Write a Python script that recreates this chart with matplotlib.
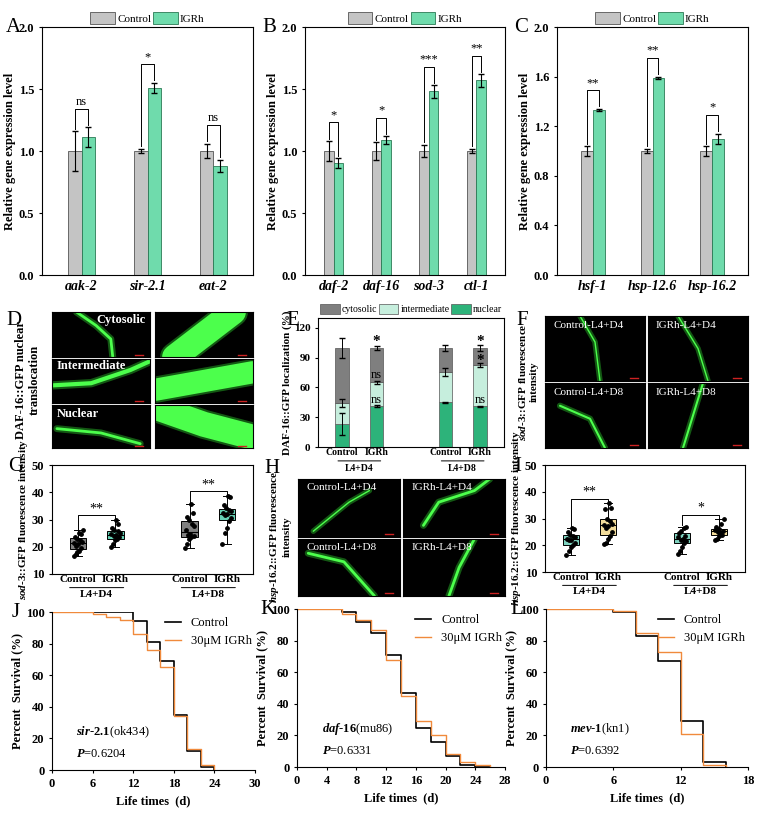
import numpy as np
import matplotlib
matplotlib.use('Agg')
import matplotlib.pyplot as plt

plt.rcParams['font.family'] = ['Liberation Serif', 'DejaVu Serif']
plt.rcParams['font.weight'] = 'bold'
plt.rcParams['axes.labelweight'] = 'bold'
plt.rcParams['mathtext.fontset'] = 'custom'
plt.rcParams['mathtext.rm'] = 'Liberation Serif'
plt.rcParams['mathtext.it'] = 'Liberation Serif:italic:bold'
plt.rcParams['mathtext.bf'] = 'Liberation Serif:bold'

GREY = '#c4c4c4'
MINT = '#6fdbac'
ORANGE = '#f08a3c'

# ---- bar panels A, B, C ----
genes_a = ['aak-2', 'sir-2.1', 'eat-2']
ctrl_a = [1.0, 1.0, 1.0]
ctrl_err_a = [0.16, 0.02, 0.06]
igrh_a = [1.11, 1.51, 0.88]
igrh_err_a = [0.08, 0.04, 0.05]
sig_a = ['ns', '*', 'ns']

genes_b = ['daf-2', 'daf-16', 'sod-3', 'ctl-1']
ctrl_b = [1.0, 1.0, 1.0, 1.0]
ctrl_err_b = [0.08, 0.07, 0.05, 0.02]
igrh_b = [0.90, 1.09, 1.48, 1.57]
igrh_err_b = [0.04, 0.03, 0.05, 0.05]
sig_b = ['*', '*', '***', '**']

genes_c = ['hsf-1', 'hsp-12.6', 'hsp-16.2']
ctrl_c = [1.0, 1.0, 1.0]
ctrl_err_c = [0.04, 0.02, 0.04]
igrh_c = [1.33, 1.59, 1.10]
igrh_err_c = [0.01, 0.01, 0.04]
sig_c = ['**', '**', '*']

# ---- E: localization (%) ----
e_groups = ['Control', 'IGRh', 'Control', 'IGRh']
e_nuclear = [23, 41, 45, 41]
e_nuclear_err = [11, 1, 0.5, 0.5]
e_inter_top = [44, 65, 76, 83]
e_inter_err = [4, 2, 4, 2]
e_cyto_top = [100, 100, 100, 100]
e_cyto_err = [10, 2, 3, 3]

# ---- G and I: fluorescence points ----
g_ctrl_d4 = [16.5, 17.5, 18.0, 18.6, 19.5, 20.2, 21.0, 21.5, 21.8, 22.5, 23.0, 23.4, 24.5, 25.2, 26.0]
g_igrh_d4 = [20.0, 21.0, 22.3, 22.8, 23.5, 24.0, 24.3, 24.5, 25.0, 25.6, 26.0, 27.0, 28.2, 30.0]
g_ctrl_d8 = [19.5, 21.0, 23.0, 23.5, 24.0, 24.3, 24.6, 26.0, 27.5, 28.5, 30.0, 31.0, 32.3, 35.7]
g_igrh_d8 = [21.0, 25.0, 27.0, 29.5, 30.5, 31.5, 32.0, 32.3, 33.0, 33.5, 34.2, 35.5, 38.2, 38.8]
i_ctrl_d4 = [16.5, 18.0, 19.5, 20.0, 21.0, 21.8, 22.0, 22.3, 23.0, 23.5, 24.0, 25.0, 26.0, 26.5]
i_igrh_d4 = [20.3, 21.0, 22.5, 23.5, 25.0, 26.5, 27.3, 27.5, 28.0, 29.0, 30.0, 33.5, 34.0, 35.8]
i_ctrl_d8 = [16.8, 18.0, 19.5, 21.0, 21.5, 22.0, 22.5, 23.0, 23.5, 24.5, 25.5, 26.5, 27.0]
i_igrh_d8 = [22.0, 22.5, 23.3, 23.8, 24.5, 25.0, 25.3, 25.8, 26.0, 27.0, 27.8, 29.8]

# ---- J, K, L: survival ----
j_days = [0, 6, 8, 10, 12, 14, 16, 18, 20, 22, 24]
j_ctrl = [100, 100, 100, 100, 94, 81, 69, 35, 12, 2, 0]
j_igrh = [100, 99, 97, 95, 86, 76, 65, 34, 13, 3, 0]
k_days = [0, 6, 8, 10, 12, 14, 16, 18, 20, 22, 24, 26]
k_ctrl = [100, 98, 92, 85, 71, 47, 25, 16, 7, 1, 0, 0]
k_igrh = [100, 97, 93, 87, 68, 45, 29, 20, 8, 3, 1, 0]
l_days = [0, 6, 8, 10, 12, 14, 16]
l_ctrl = [100, 98, 83, 67, 29, 3, 0]
l_igrh = [100, 99, 85, 73, 21, 1, 0]

W, H = 761, 813
fig = plt.figure(figsize=(W / 100, H / 100), dpi=100)


def add_ax(x0, y0, x1, y1):
    return fig.add_axes([x0 / W, 1 - y1 / H, (x1 - x0) / W, (y1 - y0) / H])


def panel_label(x, y, s):
    fig.text(x / W, 1 - y / H, s, fontsize=15, fontweight='normal', va='center', ha='left')


def bar_panel(ax, genes, ctrl, ctrl_err, igrh, igrh_err, sig, yticks, fmt):
    x = np.arange(len(genes))
    w = 0.2
    ax.bar(x - w / 2, ctrl, w, yerr=ctrl_err, color=GREY, edgecolor='#555555', lw=0.6,
           capsize=2, error_kw=dict(lw=0.8), label='Control')
    ax.bar(x + w / 2, igrh, w, yerr=igrh_err, color=MINT, edgecolor='#2b7a55', lw=0.6,
           capsize=2, error_kw=dict(lw=0.8), label='IGRh')
    for i in range(len(genes)):
        t1 = ctrl[i] + ctrl_err[i] + 0.02
        t2 = igrh[i] + igrh_err[i] + 0.02
        h = max(t1, t2) + 0.13
        ax.plot([x[i] - w / 2, x[i] - w / 2, x[i] + w / 2, x[i] + w / 2], [t1, h, h, t2], color='k', lw=0.7)
        ax.text(x[i], h + 0.01, sig[i], ha='center', va='bottom', fontsize=9, fontweight='normal')
    ax.set_xlim(-0.6, len(genes) - 0.4)
    ax.set_ylim(0, yticks[-1])
    ax.set_yticks(yticks)
    ax.set_yticklabels([fmt % v for v in yticks], fontsize=9)
    ax.set_xticks(x)
    ax.set_xticklabels(genes, fontsize=10, style='italic')
    ax.tick_params(axis='x', length=0)
    ax.tick_params(axis='y', length=2)
    ax.set_ylabel('Relative gene expression level', fontsize=9, labelpad=2)
    ax.legend(loc='lower center', bbox_to_anchor=(0.5, 0.99), ncol=2, frameon=False,
              prop=dict(size=8, weight='normal'),
              handlelength=2.2, handleheight=1.3, columnspacing=0.2, handletextpad=0.2, borderpad=0)


ax = add_ax(42, 27, 253, 275)
bar_panel(ax, genes_a, ctrl_a, ctrl_err_a, igrh_a, igrh_err_a, sig_a, [0, 0.5, 1.0, 1.5, 2.0], '%.1f')
panel_label(6, 28, 'A')
ax = add_ax(305, 27, 505, 275)
bar_panel(ax, genes_b, ctrl_b, ctrl_err_b, igrh_b, igrh_err_b, sig_b, [0, 0.5, 1.0, 1.5, 2.0], '%.1f')
panel_label(262, 28, 'B')
ax = add_ax(557, 27, 748, 275)
bar_panel(ax, genes_c, ctrl_c, ctrl_err_c, igrh_c, igrh_err_c, sig_c, [0, 0.4, 0.8, 1.2, 1.6, 2.0], '%.1f')
panel_label(514, 28, 'C')


# ---- fluorescence image stand-ins ----
def worm_img(x0, y0, x1, y1, pts, text=None, lw=2, alpha=1.0):
    a = add_ax(x0, y0, x1, y1)
    a.set_facecolor('black')
    a.set_xlim(0, 1)
    a.set_ylim(0, 1)
    a.set_xticks([])
    a.set_yticks([])
    px, py = zip(*pts)
    a.plot(px, py, color='#39ff39', lw=lw + 3, alpha=0.35 * alpha, solid_capstyle='round')
    a.plot(px, py, color='#4cff4c', lw=lw, alpha=alpha, solid_capstyle='round')
    a.plot([0.85, 0.93], [0.05, 0.05], color='#cc2222', lw=1)
    if text:
        a.text(0.08, 0.85, text, color='white', fontsize=8, fontweight='normal', va='center')
    return a


# D
a = worm_img(52, 312, 150, 357, [(0.25, 1.0), (0.45, 0.7), (0.6, 0.4), (0.62, 0.0)], None, 2)
a.text(0.45, 0.82, 'Cytosolic', color='white', fontsize=9, va='center')
worm_img(155, 312, 253, 357, [(0.2, 0.0), (0.5, 0.5), (0.8, 1.0)], None, 18)
a = worm_img(52, 359, 150, 403, [(0.0, 0.4), (0.4, 0.45), (0.8, 0.75), (1.0, 0.95)], None, 3)
a.text(0.05, 0.85, 'Intermediate', color='white', fontsize=9, va='center')
worm_img(155, 359, 253, 403, [(0.0, 0.3), (0.5, 0.5), (1.0, 0.7)], None, 16)
a = worm_img(52, 405, 150, 448, [(0.05, 0.45), (0.5, 0.35), (0.9, 0.1)], None, 2)
a.text(0.05, 0.8, 'Nuclear', color='white', fontsize=9, va='center')
worm_img(155, 405, 253, 448, [(0.0, 0.95), (0.5, 0.55), (1.0, 0.25)], None, 18)
fig.text(28 / W, 1 - 380 / H, 'DAF-16::GFP nuclear\ntranslocation', rotation=90, fontsize=9,
         ha='center', va='center')
panel_label(6, 320, 'D')

# E
ax = add_ax(318, 318, 504, 447)
ex = np.array([0, 1, 3, 4])
bw = 0.4
nuc = np.array(e_nuclear)
inter = np.array(e_inter_top) - nuc
cyto = np.array(e_cyto_top) - np.array(e_inter_top)
ax.bar(ex, nuc, bw, color='#2db37a', edgecolor='#555555', lw=0.5, label='nuclear')
ax.bar(ex, inter, bw, bottom=nuc, color='#c6eedd', edgecolor='#555555', lw=0.5, label='intermediate')
ax.bar(ex, cyto, bw, bottom=e_inter_top, color='#7f7f7f', edgecolor='#555555', lw=0.5, label='cytosolic')
ax.errorbar(ex, nuc, yerr=e_nuclear_err, fmt='none', ecolor='k', lw=0.7, capsize=2)
ax.errorbar(ex, e_inter_top, yerr=e_inter_err, fmt='none', ecolor='k', lw=0.7, capsize=2)
ax.errorbar(ex, e_cyto_top, yerr=e_cyto_err, fmt='none', ecolor='k', lw=0.7, capsize=2)
ax.text(1, 103, '*', ha='center', fontsize=11)
ax.text(4, 103, '*', ha='center', fontsize=11)
ax.text(4, 84, '*', ha='center', fontsize=11)
ax.text(1, 70, 'ns', ha='center', fontsize=9, fontweight='normal')
ax.text(1, 44, 'ns', ha='center', fontsize=9, fontweight='normal')
ax.text(4, 44, 'ns', ha='center', fontsize=9, fontweight='normal')
ax.set_xlim(-0.7, 4.7)
ax.set_ylim(0, 130)
ax.set_yticks([0, 30, 60, 90, 120])
ax.tick_params(axis='y', labelsize=8, length=2)
ax.set_xticks(ex)
ax.set_xticklabels(e_groups, fontsize=7)
ax.tick_params(axis='x', length=0, pad=1)
ax.set_ylabel('DAF-16::GFP localization (%)', fontsize=8, labelpad=1)
for xc, lab in [(0.5, 'L4+D4'), (3.5, 'L4+D8')]:
    ax.annotate('', xy=(xc - 0.7, -14), xytext=(xc + 0.7, -14), xycoords='data',
                arrowprops=dict(arrowstyle='-', lw=0.7), annotation_clip=False)
    ax.text(xc, -17, lab, ha='center', va='top', fontsize=7)
h, l = ax.get_legend_handles_labels()
ax.legend(h[::-1], l[::-1], loc='lower center', bbox_to_anchor=(0.5, 0.99), ncol=3, frameon=False,
          prop=dict(size=7, weight='normal'), handlelength=2, handleheight=1.2, columnspacing=0.2,
          handletextpad=0.2, borderpad=0)
panel_label(286, 320, 'E')

# F
worm_img(545, 316, 645, 381, [(0.35, 1.0), (0.5, 0.6), (0.55, 0.0)], 'Control-L4+D4', 1)
worm_img(648, 316, 748, 381, [(0.3, 1.0), (0.5, 0.5), (0.6, 0.0)], 'IGRh-L4+D4', 1)
worm_img(545, 383, 645, 448, [(0.15, 0.65), (0.45, 0.45), (0.6, 0.0)], 'Control-L4+D8', 1.5)
worm_img(648, 383, 748, 448, [(0.55, 1.0), (0.45, 0.5), (0.35, 0.0)], 'IGRh-L4+D8', 1.5)
fig.text(528 / W, 1 - 382 / H, '$\\it{sod}$-$\\it{3}$::GFP fluorescence\nintensity', rotation=90,
         fontsize=8, ha='center', va='center')
panel_label(516, 320, 'F')


def box_panel(ax, groups, colors, sig, ylab):
    pos = [0, 1, 3, 4]
    bp = ax.boxplot(groups, positions=pos, widths=0.45, patch_artist=True, showfliers=False,
                    medianprops=dict(color='k', lw=0.8), whiskerprops=dict(lw=0.7),
                    capprops=dict(lw=0.7), boxprops=dict(lw=0.7), whis=(0, 100))
    for b, c in zip(bp['boxes'], colors):
        b.set_facecolor(c)
    for p, g in zip(pos, groups):
        offs = np.linspace(-0.12, 0.12, len(g))[np.argsort(np.arange(len(g)) % 3)]
        ax.scatter(np.full(len(g), p) + offs, g, s=6, color='k', zorder=3)
    for k, ((p1, p2), s) in enumerate(zip([(0, 1), (3, 4)], sig)):
        a, b = groups[2 * k], groups[2 * k + 1]
        top = max(max(a), max(b)) + 1.5
        ax.plot([p1, p1, p2, p2], [max(a) + 0.5, top, top, top - 1], color='k', lw=0.7)
        ax.text((p1 + p2) / 2, top, s, ha='center', va='bottom', fontsize=10, fontweight='normal')
    ax.set_xlim(-0.7, 4.7)
    ax.set_ylim(10, 50)
    ax.set_yticks([10, 20, 30, 40, 50])
    ax.tick_params(axis='y', labelsize=9, length=2)
    ax.set_xticks(pos)
    ax.set_xticklabels(['Control', 'IGRh', 'Control', 'IGRh'], fontsize=8)
    ax.tick_params(axis='x', length=0, pad=1)
    ax.set_ylabel(ylab, fontsize=8, labelpad=1)
    for xc, lab in [(0.5, 'L4+D4'), (3.5, 'L4+D8')]:
        ax.annotate('', xy=(xc - 0.8, 5.0), xytext=(xc + 0.8, 5.0), xycoords='data',
                    arrowprops=dict(arrowstyle='-', lw=0.7), annotation_clip=False)
        ax.text(xc, 4.3, lab, ha='center', va='top', fontsize=8)


# G
ax = add_ax(52, 465, 253, 574)
box_panel(ax, [g_ctrl_d4, g_igrh_d4, g_ctrl_d8, g_igrh_d8], ['#808080', '#66d1b5', '#808080', '#66d1b5'],
          ['**', '**'], '$\\it{sod}$-$\\it{3}$::GFP fluorescence intensity')
panel_label(8, 466, 'G')

# H
worm_img(298, 479, 400, 537, [(0.15, 0.1), (0.5, 0.6), (0.7, 0.8)], 'Control-L4+D4', 1)
worm_img(403, 479, 505, 537, [(0.2, 0.2), (0.35, 0.6), (0.7, 0.8), (0.85, 1.0)], 'IGRh-L4+D4', 2)
worm_img(298, 539, 400, 596, [(0.1, 0.75), (0.45, 0.6), (0.75, 0.0)], 'Control-L4+D8', 2)
worm_img(403, 539, 505, 596, [(0.7, 1.0), (0.55, 0.5), (0.45, 0.0)], 'IGRh-L4+D8', 2)
fig.text(280 / W, 1 - 537 / H, '$\\it{hsp}$-$\\it{16.2}$::GFP fluorescence\nintensity', rotation=90,
         fontsize=8, ha='center', va='center')
panel_label(264, 468, 'H')

# I
ax = add_ax(545, 465, 745, 572)
box_panel(ax, [i_ctrl_d4, i_igrh_d4, i_ctrl_d8, i_igrh_d8], ['#7fd3c0', '#f2dc9b', '#7fd3c0', '#f2dc9b'],
          ['**', '*'], '$\\it{hsp}$-$\\it{16.2}$::GFP fluorescence intensity')
panel_label(514, 466, 'I')


def surv_panel(ax, days, ctrl, igrh, xmax, xticks, gene, strain, pval):
    ax.step(days, ctrl, where='post', color='k', lw=1.2, label='Control')
    ax.step(days, igrh, where='post', color=ORANGE, lw=1.0, label='30μM IGRh')
    ax.set_xlim(0, xmax)
    ax.set_ylim(0, 100)
    ax.set_xticks(xticks)
    ax.set_yticks([0, 20, 40, 60, 80, 100])
    ax.tick_params(labelsize=9, length=2)
    for s in ['top', 'right']:
        ax.spines[s].set_visible(False)
    ax.set_xlabel('Life times  (d)', fontsize=9)
    ax.set_ylabel('Percent  Survival (%)', fontsize=9, labelpad=2)
    ax.legend(loc='upper right', bbox_to_anchor=(1.04, 1.04), frameon=False,
              handlelength=1.3, prop=dict(weight='normal', size=9))
    ax.text(0.12, 0.22, '$\\it{%s}$(%s)' % (gene, strain), transform=ax.transAxes, fontsize=9,
            fontweight='normal')
    ax.text(0.12, 0.08, '$\\it{P}$=%s' % pval, transform=ax.transAxes, fontsize=9, fontweight='normal')


ax = add_ax(52, 612, 255, 770)
surv_panel(ax, j_days, j_ctrl, j_igrh, 30, [0, 6, 12, 18, 24, 30], 'sir}$-$\\it{2.1', 'ok434', '0.6204')
panel_label(12, 612, 'J')
ax = add_ax(297, 609, 505, 767)
surv_panel(ax, k_days, k_ctrl, k_igrh, 28, list(range(0, 29, 4)), 'daf}$-$\\it{16', 'mu86', '0.6331')
panel_label(260, 609, 'K')
ax = add_ax(546, 609, 748, 767)
surv_panel(ax, l_days, l_ctrl, l_igrh, 18, [0, 6, 12, 18], 'mev}$-$\\it{1', 'kn1', '0.6392')
panel_label(510, 609, 'L')

fig.savefig('out.png', dpi=100)
